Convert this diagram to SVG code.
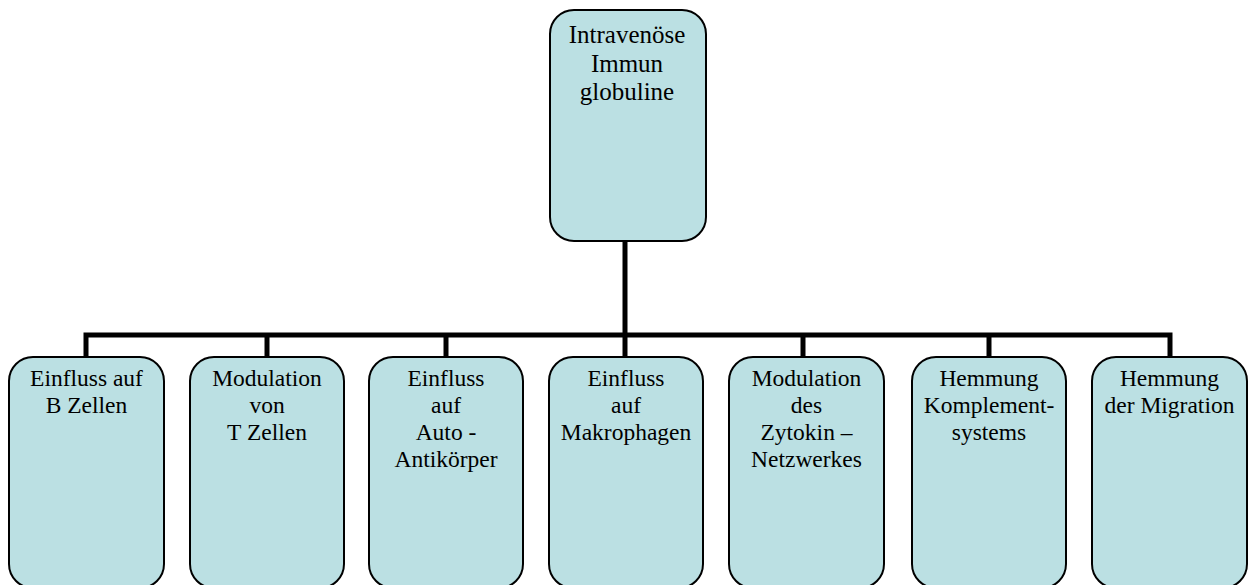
<svg xmlns="http://www.w3.org/2000/svg" width="1249" height="585" viewBox="0 0 1249 585">
<style>
.box{fill:#BBE0E3;stroke:#000;stroke-width:2}
.t{font-family:"Liberation Serif","Times New Roman",serif;font-size:23.5px;fill:#000;text-anchor:middle}
.tt{font-size:25px}
.c{stroke:#000;stroke-width:5;fill:none}
</style>
<rect width="1249" height="585" fill="#fff"/>
<g id="connectors">
<line class="c" x1="625" y1="241" x2="625" y2="335"/>
<polyline class="c" points="86,357 86,335 1170,335 1170,357"/>
<line class="c" x1="267" y1="335" x2="267" y2="357"/>
<line class="c" x1="446" y1="335" x2="446" y2="357"/>
<line class="c" x1="625" y1="335" x2="625" y2="357"/>
<line class="c" x1="803" y1="335" x2="803" y2="357"/>
<line class="c" x1="989" y1="335" x2="989" y2="357"/>
</g>
<g id="root">
<rect class="box" x="550" y="10" width="156" height="231" rx="24"/>
<text class="t tt" x="627" y="43">Intravenöse</text>
<text class="t tt" x="627" y="72">Immun</text>
<text class="t tt" x="627" y="100">globuline</text>
</g>
<g id="n1">
<rect class="box" x="9" y="357" width="155" height="231" rx="24"/>
<text class="t" x="86.5" y="386">Einfluss auf</text>
<text class="t" x="86.5" y="413">B Zellen</text>
</g>
<g id="n2">
<rect class="box" x="190" y="357" width="154" height="231" rx="24"/>
<text class="t" x="267" y="386">Modulation</text>
<text class="t" x="267" y="413">von</text>
<text class="t" x="267" y="440">T Zellen</text>
</g>
<g id="n3">
<rect class="box" x="369" y="357" width="154" height="231" rx="24"/>
<text class="t" x="446" y="386">Einfluss</text>
<text class="t" x="446" y="413">auf</text>
<text class="t" x="446" y="440">Auto -</text>
<text class="t" x="446" y="467">Antikörper</text>
</g>
<g id="n4">
<rect class="box" x="549" y="357" width="154" height="231" rx="24"/>
<text class="t" x="626" y="386">Einfluss</text>
<text class="t" x="626" y="413">auf</text>
<text class="t" x="626" y="440">Makrophagen</text>
</g>
<g id="n5">
<rect class="box" x="729" y="357" width="155" height="231" rx="24"/>
<text class="t" x="806.5" y="386">Modulation</text>
<text class="t" x="806.5" y="413">des</text>
<text class="t" x="806.5" y="440">Zytokin –</text>
<text class="t" x="806.5" y="467">Netzwerkes</text>
</g>
<g id="n6">
<rect class="box" x="912" y="357" width="154" height="231" rx="24"/>
<text class="t" x="989" y="386">Hemmung</text>
<text class="t" x="989" y="413">Komplement-</text>
<text class="t" x="989" y="440">systems</text>
</g>
<g id="n7">
<rect class="box" x="1092" y="357" width="155" height="231" rx="24"/>
<text class="t" x="1169.5" y="386">Hemmung</text>
<text class="t" x="1169.5" y="413">der Migration</text>
</g>
</svg>
